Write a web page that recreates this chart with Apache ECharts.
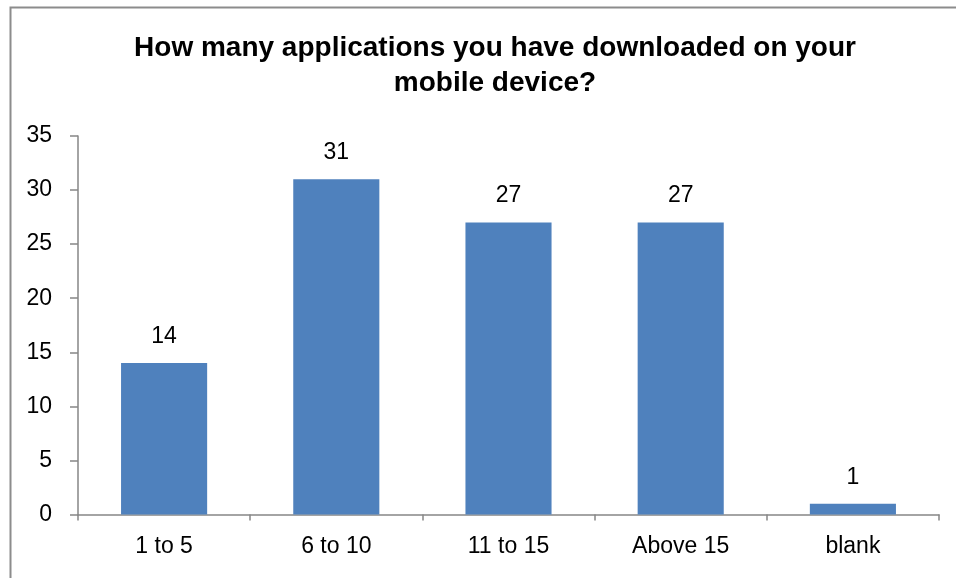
<!DOCTYPE html>
<html><head><meta charset="utf-8">
<script src="https://cdn.jsdelivr.net/npm/echarts@6/dist/echarts.min.js"></script>
<style>html,body{margin:0;padding:0;background:#fff}#c{width:956px;height:578px}</style>
</head><body><div id="c"></div>
<script>
var titleText = 'How many applications you have downloaded on your\nmobile device?';
var categories = ['1 to 5', '6 to 10', '11 to 15', 'Above 15', 'blank'];
var values = [14, 31, 27, 27, 1];
var yTicks = {min: 0, max: 35, interval: 5};

var chart = echarts.init(document.getElementById('c'), null, {renderer: 'canvas'});
var font = '"Liberation Sans", Arial, sans-serif';
chart.setOption({
  animation: false,
  backgroundColor: '#fff',
  title: {
    text: titleText, left: 490, top: 26, textAlign: 'center',
    textStyle: {fontFamily: font, fontWeight: 'bold', fontSize: 28, color: '#000', lineHeight: 35}
  },
  graphic: [{
    type: 'rect', left: 8, top: 5, shape: {x: 0, y: 0, width: 1200, height: 1000},
    style: {fill: 'none', stroke: '#8c8c8c', lineWidth: 2}, silent: true, z: -1
  }],
  grid: {left: 78, right: 17, top: 136, bottom: 63.5, containLabel: false},
  xAxis: {
    type: 'category', data: categories,
    axisLine: {lineStyle: {color: '#868686', width: 1.5}},
    axisTick: {show: true, length: 6, lineStyle: {color: '#868686', width: 1.5}},
    axisLabel: {fontFamily: font, fontSize: 23, color: '#000', margin: 21}
  },
  yAxis: {
    type: 'value', min: yTicks.min, max: yTicks.max, interval: yTicks.interval,
    splitLine: {show: false},
    axisLine: {show: true, lineStyle: {color: '#868686', width: 1.5}},
    axisTick: {show: true, inside: false, length: 8, lineStyle: {color: '#868686', width: 1.5}},
    axisLabel: {fontFamily: font, fontSize: 23, color: '#000', margin: 26}
  },
  series: [{
    type: 'bar', data: values, barWidth: '50%',
    itemStyle: {color: '#4F81BD'},
    label: {show: true, position: 'top', distance: 15, fontFamily: font, fontSize: 23, color: '#000'}
  }]
});
</script></body></html>
